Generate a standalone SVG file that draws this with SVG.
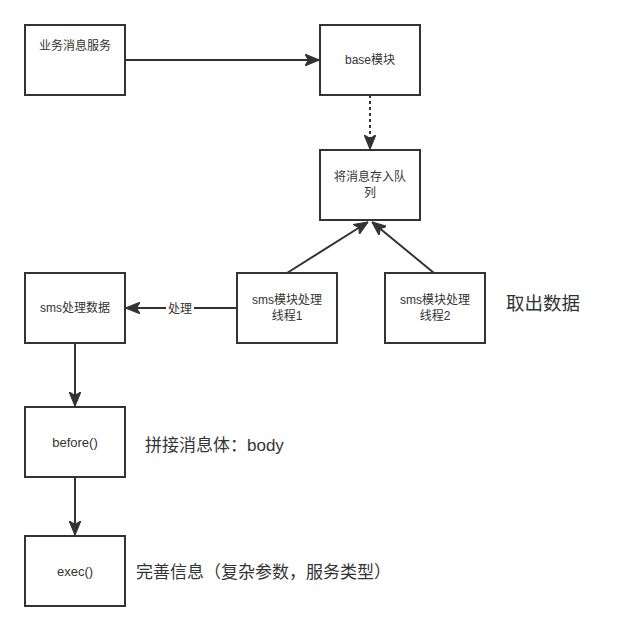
<svg xmlns="http://www.w3.org/2000/svg" width="630" height="631" viewBox="0 0 630 631">
<style>
.box{fill:#fff;stroke:#333;stroke-width:2}
.t{font-family:"Liberation Sans","Noto Sans CJK SC",sans-serif;font-size:12px;fill:#333;text-anchor:middle}
.s{font-size:13px}
.big{font-family:"Liberation Sans","Noto Sans CJK SC",sans-serif;font-size:17px;fill:#333}
.ln{stroke:#333;stroke-width:2;fill:none}
</style>
<defs>
<marker id="a" viewBox="0 0 12 10" refX="12" refY="5" markerWidth="14" markerHeight="12" markerUnits="userSpaceOnUse" orient="auto"><path d="M0,0 L12,5 L0,10 L3,5 Z" fill="#333" stroke="#333" stroke-width="1"/></marker>
</defs>
<rect width="630" height="631" fill="#fff"/>
<g id="connectors">
<line class="ln" x1="125" y1="60" x2="319" y2="60" marker-end="url(#a)"/>
<line class="ln" x1="370" y1="95" x2="370" y2="149" stroke-dasharray="3 3" marker-end="url(#a)"/>
<line class="ln" x1="287" y1="273" x2="368" y2="222" marker-end="url(#a)"/>
<line class="ln" x1="434" y1="273" x2="372" y2="222" marker-end="url(#a)"/>
<line class="ln" x1="237" y1="308" x2="126" y2="308" marker-end="url(#a)"/>
<rect x="166" y="300" width="28" height="16" fill="#fff"/>
<text class="t" x="180" y="313">处理</text>
<line class="ln" x1="75" y1="343" x2="75" y2="406" marker-end="url(#a)"/>
<line class="ln" x1="75" y1="477" x2="75" y2="535" marker-end="url(#a)"/>
</g>
<g id="n1"><rect class="box" x="25" y="25" width="100" height="70"/><text class="t" x="75" y="50">业务消息服务</text></g>
<g id="n2"><rect class="box" x="320" y="25" width="100" height="70"/><text class="t" x="370" y="64">base模块</text></g>
<g id="n3"><rect class="box" x="320" y="150" width="100" height="70"/><text class="t" x="370" y="181">将消息存入队</text><text class="t" x="370" y="197">列</text></g>
<g id="n4"><rect class="box" x="25" y="273" width="100" height="70"/><text class="t" x="75" y="312">sms处理数据</text></g>
<g id="n5"><rect class="box" x="237" y="273" width="100" height="70"/><text class="t" x="287" y="304">sms模块处理</text><text class="t" x="287" y="320">线程1</text></g>
<g id="n6"><rect class="box" x="385" y="273" width="100" height="70"/><text class="t" x="435" y="304">sms模块处理</text><text class="t" x="435" y="320">线程2</text></g>
<g id="n7"><rect class="box" x="25" y="407" width="100" height="70"/><text class="t s" x="75" y="447">before()</text></g>
<g id="n8"><rect class="box" x="25" y="536" width="100" height="70"/><text class="t s" x="75" y="576">exec()</text></g>
<g id="labels">
<text class="big" x="506" y="310" style="font-size:18.5px">取出数据</text>
<text class="big" x="145" y="451">拼接消息体：body</text>
<text class="big" x="136" y="578">完善信息（复杂参数，服务类型）</text>
</g>
</svg>
